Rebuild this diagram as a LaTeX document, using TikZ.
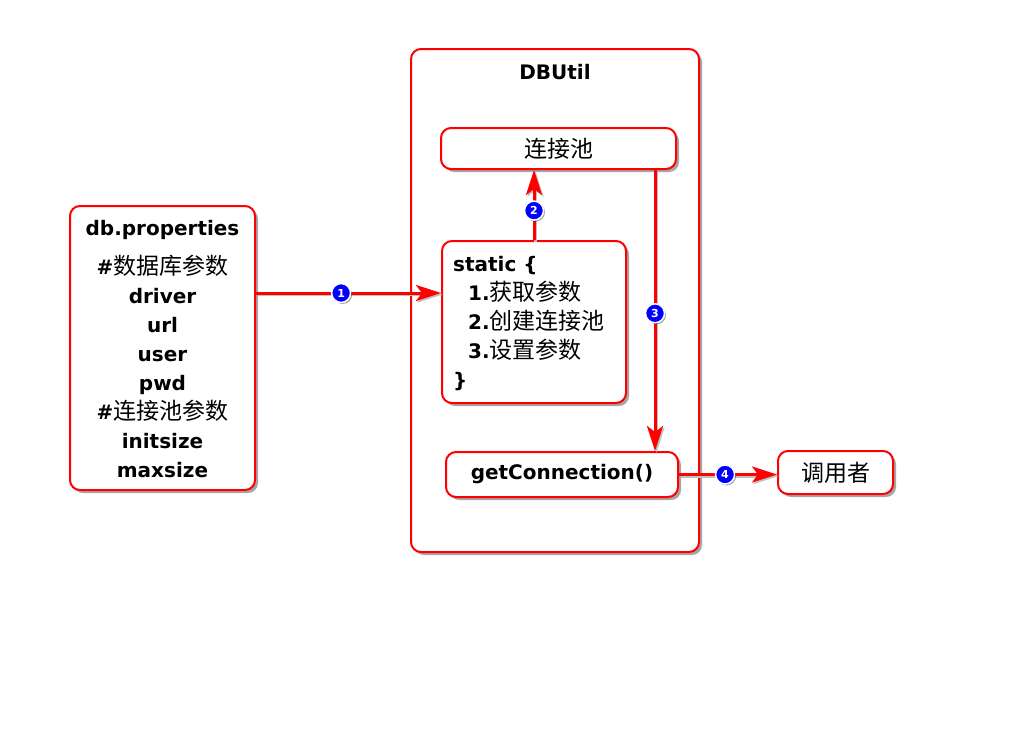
\documentclass[tikz,border=0pt]{standalone}
\usepackage{fontspec}
\setmainfont{DejaVu Sans}
\newfontfamily\cjk{Noto Sans CJK SC}
\usetikzlibrary{shadows,arrows.meta}
\newcommand\zh[1]{{\cjk\mdseries\fontsize{23}{29}\selectfont #1}}
\tikzset{
  box/.style={draw=red, line width=2pt, fill=white, rounded corners=10pt,
    drop shadow={shadow xshift=3pt, shadow yshift=-3pt, opacity=0.35, fill=black},
    inner sep=0pt},
  txt/.style={font=\fontsize{20}{29}\selectfont\bfseries, inner sep=0pt},
  conn/.style={draw=red, line width=3pt, -{Stealth[length=25pt,width=16pt,inset=6pt]},
    preaction={draw=black!25, line width=3pt, transform canvas={shift={(1.5pt,-1.5pt)}}}},
  marker/.style={circle, fill=blue, draw=white, line width=1.5pt, inner sep=0pt,
    minimum size=19pt, text=white, font=\fontsize{11}{11}\selectfont\bfseries,
    drop shadow={shadow xshift=1.5pt, shadow yshift=-1.5pt, opacity=0.35, fill=black}}
}
\begin{document}
\begin{tikzpicture}[x=1pt,y=-1pt]
\useasboundingbox[fill=white] (0,0) rectangle (1024,728);
% boxes
\node[box, minimum width=288pt, minimum height=503pt] (dbu) at (555,300.5) {};
\node[txt] (dbut) at (555,72) {DBUtil};
\node[box, minimum width=235pt, minimum height=41pt] (pool) at (558.5,148.5) {\zh{连接池}};
\node[box, minimum width=185pt, minimum height=284pt] (db) at (162.5,348) {};
\node[txt, align=center, anchor=north] (dbt) at (162.5,220)
  {db.properties\\[10pt] \#\zh{数据库参数}\\ driver\\ url\\ user\\ pwd\\ \#\zh{连接池参数}\\ initsize\\ maxsize};
\node[box, minimum width=184pt, minimum height=162pt] (st) at (534,322) {};
\node[txt, align=left, anchor=north west] (stt) at (453,256)
  {static \{\\ \hspace*{15pt}1.\zh{获取参数}\\ \hspace*{15pt}2.\zh{创建连接池}\\ \hspace*{15pt}3.\zh{设置参数}\\ \}};
\node[box, txt, minimum width=232pt, minimum height=45pt] (gc) at (562,474.5) {getConnection()};
\node[box, minimum width=115pt, minimum height=43pt] (caller) at (835.5,472.5) {\zh{调用者}};
% connectors
\draw[conn] ([yshift=55pt]db.east) coordinate (a1) -- (st.west |- a1)
  node[marker, pos=0.46] (m1) {1};
\draw[conn] (st.north) -- (st.north |- pool.south)
  node[marker, pos=0.42] (m2) {2};
\draw[conn] ([xshift=-22pt]pool.south east) coordinate (a3) -- (gc.north -| a3)
  node[marker, pos=0.51] (m3) {3};
\draw[conn] (gc.east) -- (caller.west |- gc.east)
  node[marker, pos=0.47] (m4) {4};
\end{tikzpicture}
\end{document}
